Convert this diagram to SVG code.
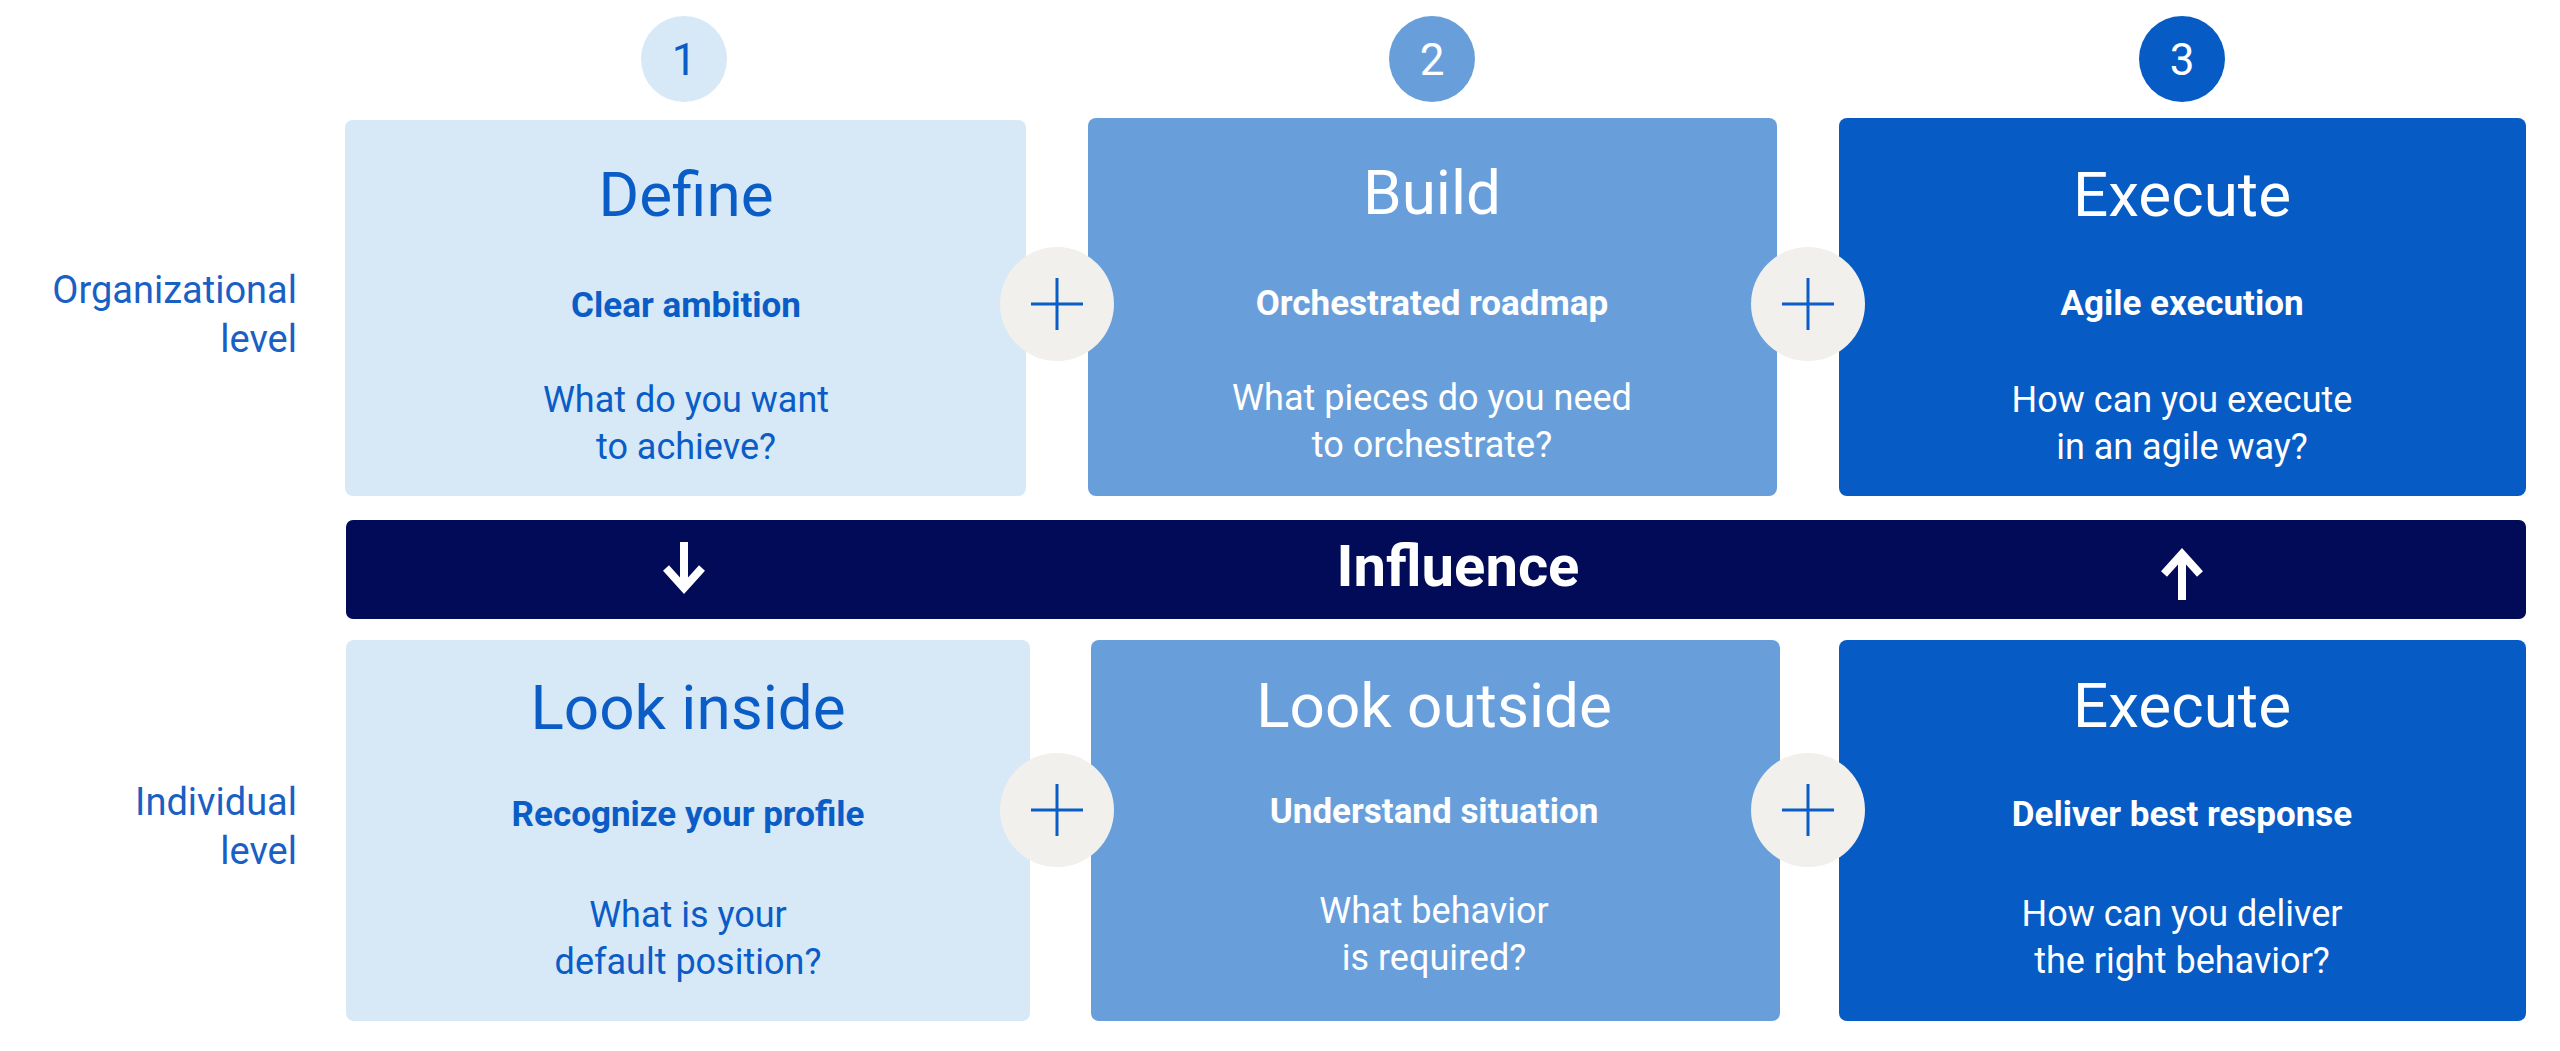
<svg xmlns="http://www.w3.org/2000/svg" width="2560" height="1051" viewBox="0 0 2560 1051">
<style>
text{font-family:Roboto,"Liberation Sans",sans-serif;text-anchor:middle}
.l1{fill:#d7e8f7}.l2{fill:#689fdb}.l3{fill:#065bc4}
.tb{fill:#0a5cc6}.tw{fill:#fff}
.h{font-size:62px}.s{font-size:35px;font-weight:700}.q{font-size:36px}
.side{font-size:38px;fill:#1a5fc4;text-anchor:end}
.plus circle{fill:#f1f0ec}.plus path{stroke:#0a5cc6;stroke-width:3;fill:none}
</style>
<rect width="2560" height="1051" fill="#fff"/>
<g id="labels">
<text class="side" x="297" y="303">Organizational</text>
<text class="side" x="297" y="352">level</text>
<text class="side" x="297" y="815">Individual</text>
<text class="side" x="297" y="864">level</text>
</g>
<g id="step1"><circle class="l1" cx="684" cy="59" r="43"/><text class="tb" x="684" y="75" font-size="44">1</text></g>
<g id="step2"><circle class="l2" cx="1432" cy="59" r="43"/><text class="tw" x="1432" y="75" font-size="44">2</text></g>
<g id="step3"><circle class="l3" cx="2182" cy="59" r="43"/><text class="tw" x="2182" y="75" font-size="44">3</text></g>
<g id="define"><rect class="l1" x="345" y="120" width="681" height="376" rx="8"/>
<text class="tb h" x="686" y="216">Define</text><text class="tb s" x="686" y="317">Clear ambition</text>
<text class="tb q" x="686" y="412">What do you want</text><text class="tb q" x="686" y="459">to achieve?</text></g>
<g id="build"><rect class="l2" x="1088" y="118" width="689" height="378" rx="8"/>
<text class="tw h" x="1432" y="214">Build</text><text class="tw s" x="1432" y="315">Orchestrated roadmap</text>
<text class="tw q" x="1432" y="410">What pieces do you need</text><text class="tw q" x="1432" y="457">to orchestrate?</text></g>
<g id="execute1"><rect class="l3" x="1839" y="118" width="687" height="378" rx="8"/>
<text class="tw h" x="2182" y="216">Execute</text><text class="tw s" x="2182" y="315">Agile execution</text>
<text class="tw q" x="2182" y="412">How can you execute</text><text class="tw q" x="2182" y="459">in an agile way?</text></g>
<g id="influence"><rect x="346" y="520" width="2180" height="99" rx="7" fill="#010b58"/>
<text class="tw" x="1458" y="586" font-size="58" font-weight="700">Influence</text>
<path d="M684 542v44M666 568l18 20 18-20" stroke="#fff" stroke-width="8" fill="none"/>
<path d="M2182 600v-46M2164 574l18-20 18 20" stroke="#fff" stroke-width="8" fill="none"/></g>
<g id="lookinside"><rect class="l1" x="346" y="640" width="684" height="381" rx="8"/>
<text class="tb h" x="688" y="729">Look inside</text><text class="tb s" x="688" y="826">Recognize your profile</text>
<text class="tb q" x="688" y="927">What is your</text><text class="tb q" x="688" y="974">default position?</text></g>
<g id="lookoutside"><rect class="l2" x="1091" y="640" width="689" height="381" rx="8"/>
<text class="tw h" x="1434" y="727">Look outside</text><text class="tw s" x="1434" y="823">Understand situation</text>
<text class="tw q" x="1434" y="923">What behavior</text><text class="tw q" x="1434" y="970">is required?</text></g>
<g id="execute2"><rect class="l3" x="1839" y="640" width="687" height="381" rx="8"/>
<text class="tw h" x="2182" y="727">Execute</text><text class="tw s" x="2182" y="826">Deliver best response</text>
<text class="tw q" x="2182" y="926">How can you deliver</text><text class="tw q" x="2182" y="973">the right behavior?</text></g>
<g id="connectors" class="plus">
<circle cx="1057" cy="304" r="57"/><path d="M1057 278v52M1031 304h52"/>
<circle cx="1808" cy="304" r="57"/><path d="M1808 278v52M1782 304h52"/>
<circle cx="1057" cy="810" r="57"/><path d="M1057 784v52M1031 810h52"/>
<circle cx="1808" cy="810" r="57"/><path d="M1808 784v52M1782 810h52"/>
</g>
</svg>
